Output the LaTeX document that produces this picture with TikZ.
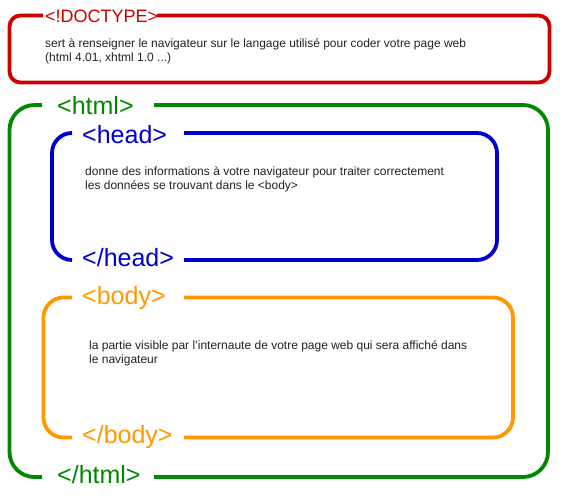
\documentclass[tikz,border=0pt]{standalone}
\usepackage{fontspec}
\setmainfont{Liberation Sans}
\definecolor{cred}{HTML}{CC0000}
\definecolor{cgreen}{HTML}{008800}
\definecolor{cblue}{HTML}{0000CC}
\definecolor{corange}{HTML}{FF9900}
\definecolor{ctext}{HTML}{222222}
\begin{document}
\begin{tikzpicture}[x=1pt,y=-1pt,
  frame/.style={line width=3.8pt},
  tag/.style={inner sep=0pt,anchor=base west,font=\fontsize{25}{25}\selectfont},
  doctag/.style={inner sep=0pt,anchor=base west,font=\fontsize{18}{18}\selectfont},
  desc/.style={inner sep=0pt,anchor=base west,align=left,text=ctext,
    font=\fontsize{12}{14}\selectfont}]
\useasboundingbox (0,0) rectangle (563,500);
% DOCTYPE
\node[doctag,text=cred] (doc) at (45,22.5) {<!DOCTYPE>};
\coordinate (docA) at (43,15.5);
\coordinate (docB) at (157,15.5);
\draw[frame,cred,rounded corners=11pt] (docB) -- (549.5,15.5) -- (549.5,82.5) -- (9.5,82.5) -- (9.5,15.5) -- (docA);
\node[desc] (docd) at (45,62) {sert à renseigner le navigateur sur le langage utilisé pour coder votre page web\\(html 4.01, xhtml 1.0 ...)};
% html
\node[tag,text=cgreen] (html) at (57,114.5) {<html>};
\node[tag,text=cgreen] (htmlc) at (57,483) {</html>};
\coordinate (hA) at (42,105);
\coordinate (hB) at (154,105);
\coordinate (hC) at (154,477);
\coordinate (hD) at (42,477);
\draw[frame,cgreen,rounded corners=25pt] (hB) -- (548,105) -- (548,477) -- (hC);
\draw[frame,cgreen,rounded corners=25pt] (hD) -- (9.5,477) -- (9.5,105) -- (hA);
% head
\node[tag,text=cblue] (head) at (82,143.5) {<head>};
\node[tag,text=cblue] (headc) at (82,266) {</head>};
\coordinate (eA) at (72,133);
\coordinate (eB) at (184,133);
\coordinate (eC) at (184,260);
\coordinate (eD) at (72,260);
\draw[frame,cblue,rounded corners=20pt] (eB) -- (497,133) -- (497,260) -- (eC);
\draw[frame,cblue,rounded corners=20pt] (eD) -- (52,260) -- (52,133) -- (eA);
\node[desc] (headd) at (85,190) {donne des informations à votre navigateur pour traiter correctement\\les données se trouvant dans le <body>};
% body
\node[tag,text=corange] (body) at (82,304.5) {<body>};
\node[tag,text=corange] (bodyc) at (82,443.5) {</body>};
\coordinate (bA) at (72,297.5);
\coordinate (bB) at (184,297.5);
\coordinate (bC) at (184,437.5);
\coordinate (bD) at (72,437.5);
\draw[frame,corange,rounded corners=20pt] (bB) -- (513,297.5) -- (513,437.5) -- (bC);
\draw[frame,corange,rounded corners=20pt] (bD) -- (43.5,437.5) -- (43.5,297.5) -- (bA);
\node[desc] (bodyd) at (89,363) {la partie visible par l'internaute de votre page web qui sera affiché dans\\le navigateur};
\end{tikzpicture}
\end{document}
